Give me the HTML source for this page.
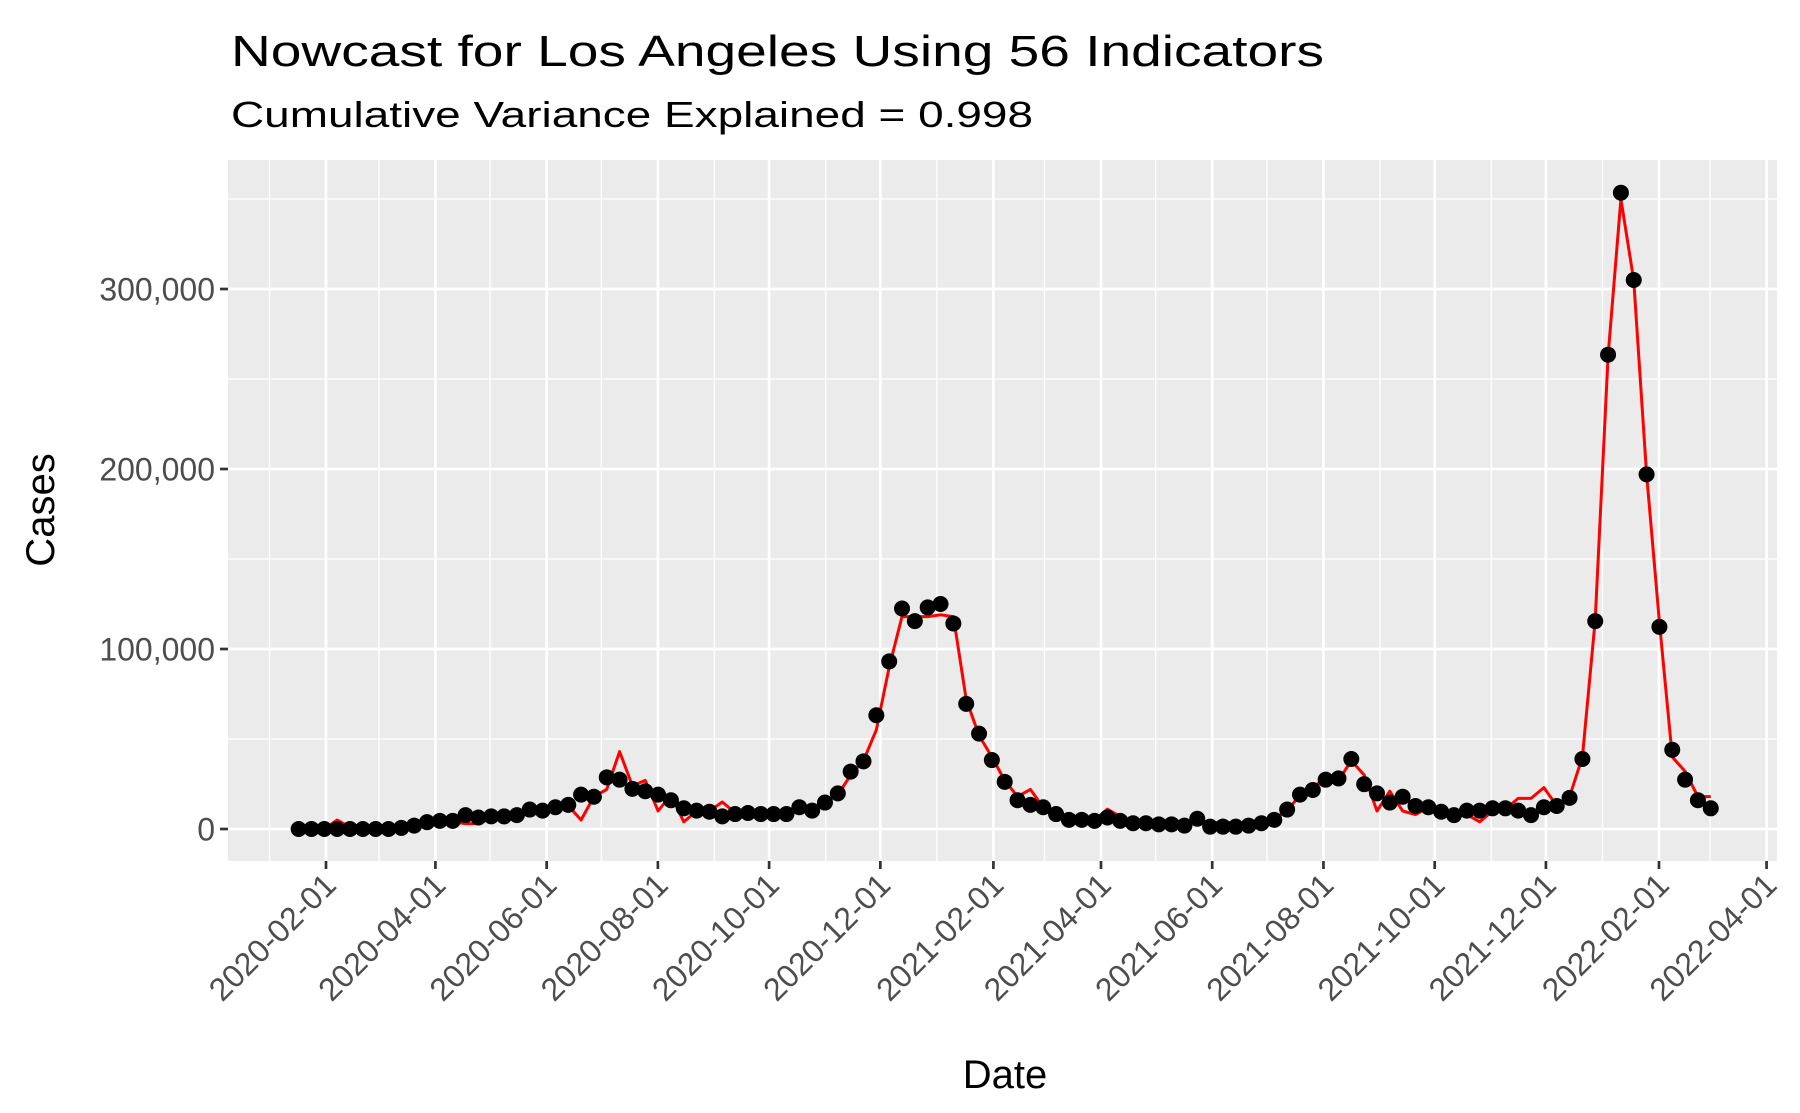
<!DOCTYPE html>
<html><head><meta charset="utf-8"><style>body{margin:0;background:#fff}svg{display:block}text{font-family:"Liberation Sans",Arial,sans-serif}</style></head>
<body>
<svg id="chart" width="1800" height="1113" xmlns="http://www.w3.org/2000/svg">
<rect width="1800" height="1113" fill="#fff"/>
<text x="231" y="66" font-size="44" fill="#000" textLength="1093" lengthAdjust="spacingAndGlyphs">Nowcast for Los Angeles Using 56 Indicators</text>
<text x="231" y="127" font-size="36" fill="#000" textLength="802" lengthAdjust="spacingAndGlyphs">Cumulative Variance Explained = 0.998</text>
<rect x="228" y="160" width="1549" height="701" fill="#ebebeb"/>
<g id="grid"></g><g id="axes"></g><g id="series"></g>
<text x="0" y="0" font-size="40" text-anchor="middle" transform="translate(54,510) rotate(-90)">Cases</text>
<text x="1005" y="1088" font-size="40" text-anchor="middle">Date</text>
</svg>
<script>
const startDate = "2020-01-17";
const actual = [0,0,0,0,0,0,0,0,0.6,1.9,3.8,4.5,4.5,7.7,6.4,7,7,7.7,10.8,10.2,12.1,13.4,19.1,17.9,28.7,27.4,22.3,21,19.1,16,11.5,10.2,9.6,7,8.3,8.9,8.3,8.3,8.3,12.1,10.2,14.7,19.8,31.9,37.6,63.2,93.1,122.5,115.5,123.1,125,114.2,69.5,53,38.3,26.2,16,13.4,12.1,8.3,5.1,5.1,4.5,6.4,4.5,3.2,3.2,2.6,2.6,1.9,5.7,1.3,1.3,1.3,1.9,3.2,5.1,10.8,19.1,21.7,27.4,28.1,38.9,24.9,19.8,14.7,17.9,12.8,12.1,9.6,7.7,10.2,10.2,11.5,11.5,10.2,7.7,12.1,12.8,17.3,38.9,115.5,263.5,353.5,305,197,112.3,44,27.4,16,11.5];
const predicted = [0,0,0,5,1,0,0,0,1,2,4,4,4,3,3,6,7,8,10,11,12,13,5,18,22,43,24,27,10,19,4,10,10,15,9,9,8,9,9,11,12,15,19,30,38,55,90,118,118,118,119,118,72,52,40,27,18,22,12,9,6,5,5,11,7,3,3,3,3,2,5,2,5,2,2,4,6,10,19,24,27,27,38,30,10,21,10,8,12,10,8,8,4,10,11,17,17,23,13,18,40,116,263,350,305,197,115,40,32,18,18];
const yTicks = [0,100,200,300];
const yTickLabels = ["0","100,000","200,000","300,000"];
const xTickLabels = ["2020-02-01","2020-04-01","2020-06-01","2020-08-01","2020-10-01","2020-12-01","2021-02-01","2021-04-01","2021-06-01","2021-08-01","2021-10-01","2021-12-01","2022-02-01","2022-04-01"];
const xMinor = ["2020-01-01","2020-03-01","2020-05-01","2020-07-01","2020-09-01","2020-11-01","2021-01-01","2021-03-01","2021-05-01","2021-07-01","2021-09-01","2021-11-01","2022-01-01","2022-03-01"];
const yMinor = [50,150,250,350];

const NS="http://www.w3.org/2000/svg";
const L=228,R=1777,T=160,B=861;
const ref=Date.UTC(2020,1,1);
function days(s){const p=s.split('-');return (Date.UTC(+p[0],+p[1]-1,+p[2])-ref)/86400000;}
function xs(d){return 326+d*1.8235;}
function ys(v){return 829-v*1.8;}
function mk(tag,attrs,parent){const e=document.createElementNS(NS,tag);for(const k in attrs)e.setAttribute(k,attrs[k]);parent.appendChild(e);return e;}
const grid=document.getElementById('grid'),axes=document.getElementById('axes'),series=document.getElementById('series');
yMinor.forEach(v=>{const e=mk('line',{x1:L,x2:R,y1:ys(v),y2:ys(v),stroke:'#fff','stroke-width':1.3},grid);

});
xMinor.forEach(s=>{const x=xs(days(s));const e=mk('line',{x1:x,x2:x,y1:T,y2:B,stroke:'#fff','stroke-width':1.3},grid);

});
yTicks.forEach((v,i)=>{const y=ys(v);
const g=mk('line',{x1:L,x2:R,y1:y,y2:y,stroke:'#fff','stroke-width':2.7},grid);


const t=mk('line',{x1:L-8,x2:L,y1:y,y2:y,stroke:'#333','stroke-width':2.7},axes);


const lb=mk('text',{x:L-13,y:y+11.5,'font-size':32,'text-anchor':'end',fill:'#4d4d4d'},axes);lb.textContent=yTickLabels[i];

});
xTickLabels.forEach(s=>{const x=xs(days(s));
const g=mk('line',{x1:x,x2:x,y1:T,y2:B,stroke:'#fff','stroke-width':2.7},grid);


const t=mk('line',{x1:x,x2:x,y1:B,y2:B+8,stroke:'#333','stroke-width':2.7},axes);


const lb=mk('text',{x:0,y:0,'font-size':32,'text-anchor':'end',fill:'#4d4d4d',transform:`translate(${x+12},${B+26}) rotate(-45)`},axes);lb.textContent=s;

});
const d0=days(startDate);
function xi(i){return xs(d0+i*7.04);}
const pts=predicted.map((v,i)=>xi(i).toFixed(1)+','+ys(v).toFixed(1)).join(' ');
const pl=mk('polyline',{points:pts,fill:'none',stroke:'#ff0000','stroke-width':3,'stroke-linejoin':'round'},series);


actual.forEach((v,i)=>{const c=mk('circle',{cx:xi(i),cy:ys(v),r:8,fill:'#000'},series);

});
</script>
</body></html>
